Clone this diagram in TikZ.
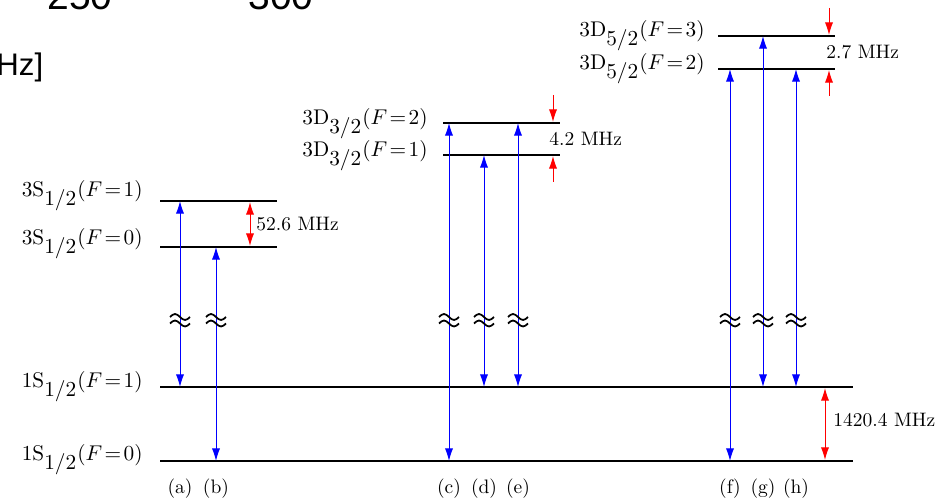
\documentclass[tikz,border=0pt]{standalone}
\usepackage{fontspec}
\newfontfamily\axisfont{Liberation Sans}
\usetikzlibrary{arrows.meta}
\tikzset{
  level/.style={line width=1.1pt, black},
  trans/.style={blue, line width=0.5pt, {Latex[length=6.5pt,width=4.2pt]}-{Latex[length=6.5pt,width=4.2pt]}},
  split/.style={red, line width=0.5pt, {Latex[length=6.5pt,width=4.2pt]}-{Latex[length=6.5pt,width=4.2pt]}},
  splitin/.style={red, line width=0.5pt, -{Latex[length=6.5pt,width=4.2pt]}},
  lab/.style={anchor=base east, inner sep=0pt, font=\fontsize{10.9}{13}\selectfont},
  mhz/.style={anchor=base west, inner sep=0pt},
  tag/.style={anchor=base, inner sep=0pt},
  brk/.style={black, line width=0.9pt},
}
\newcommand{\lvl}[4]{$#1\mathrm{#2}_{\textstyle #3}(F\mskip2mu{=}\mskip2mu#4)$}
\begin{document}
\begin{tikzpicture}[x=0.513pt, y=-0.513pt]
\clip (0,0) rectangle (940,501);
\useasboundingbox (0,0) rectangle (940,501);
% fragment of another figure
\node[anchor=base, inner sep=0pt, font=\axisfont\fontsize{20}{20}\selectfont] (t250) at (80,10) {250};
\node[anchor=base, inner sep=0pt, font=\axisfont\fontsize{20}{20}\selectfont] (t300) at (281,10) {300};
\node[anchor=base west, inner sep=0pt, font=\axisfont\fontsize{16}{16}\selectfont] (thz) at (-4,76) {Hz]};
% levels
\coordinate (s1l) at (160,201); \coordinate (s1r) at (277,201);
\coordinate (s0l) at (160,247); \coordinate (s0r) at (277,247);
\coordinate (g1l) at (160,387); \coordinate (g1r) at (853,387);
\coordinate (g0l) at (160,461); \coordinate (g0r) at (853,461);
\coordinate (a2l) at (443,123); \coordinate (a2r) at (560,123);
\coordinate (a1l) at (443,155); \coordinate (a1r) at (560,155);
\coordinate (b3l) at (718,36); \coordinate (b3r) at (835,36);
\coordinate (b2l) at (718,69); \coordinate (b2r) at (835,69);
\foreach \p in {s1,s0,g1,g0,a2,a1,b3,b2} \draw[level] (\p l) -- (\p r);
% level labels
\node[lab] (ls1) at (143,197) {\lvl{3}{S}{1/2}{1}};
\node[lab] (ls0) at (143,245) {\lvl{3}{S}{1/2}{0}};
\node[lab] (lg1) at (143,388) {\lvl{1}{S}{1/2}{1}};
\node[lab] (lg0) at (143,461) {\lvl{1}{S}{1/2}{0}};
\node[lab] (la2) at (428,125) {\lvl{3}{D}{3/2}{2}};
\node[lab] (la1) at (428,157) {\lvl{3}{D}{3/2}{1}};
\node[lab] (lb3) at (705,37) {\lvl{3}{D}{5/2}{3}};
\node[lab] (lb2) at (705,70) {\lvl{3}{D}{5/2}{2}};
% transitions
\foreach \n/\x/\lo/\hi in {a/180/387/201, b/216/461/247, c/449/461/123, d/484/387/155, e/518/387/123, f/730/461/69, g/763/387/36, h/796/387/69} {
  \coordinate (\n lo) at (\x,\lo);
  \coordinate (\n hi) at (\x,\hi);
  \draw[trans] (\n lo) -- (\n hi);
  \draw[brk] (\x-10,317) sin (\x-5,314) cos (\x,317) sin (\x+5,320) cos (\x+10,317);
  \draw[brk] (\x-10,323.5) sin (\x-5,320.5) cos (\x,323.5) sin (\x+5,326.5) cos (\x+10,323.5);
  \node[tag] (tag\n) at (\x,493) {(\n)};
}
% splittings
\coordinate (r1t) at (250,202); \coordinate (r1b) at (250,246);
\draw[split] (r1t) -- (r1b);
\node[mhz] (m1) at (256,231) {52.6 MHz};
\coordinate (r2a) at (553,95); \coordinate (r2b) at (553,122);
\coordinate (r2c) at (553,182); \coordinate (r2d) at (553,156);
\draw[splitin] (r2a) -- (r2b);
\draw[splitin] (r2c) -- (r2d);
\node[mhz] (m2) at (549,146) {4.2 MHz};
\coordinate (r3a) at (829,8); \coordinate (r3b) at (829,35);
\coordinate (r3c) at (829,96); \coordinate (r3d) at (829,70);
\draw[splitin] (r3a) -- (r3b);
\draw[splitin] (r3c) -- (r3d);
\node[mhz] (m3) at (826,59) {2.7 MHz};
\coordinate (r4t) at (825,388); \coordinate (r4b) at (825,460);
\draw[split] (r4t) -- (r4b);
\node[mhz] (m4) at (833,427) {1420.4 MHz};
\end{tikzpicture}
\end{document}
